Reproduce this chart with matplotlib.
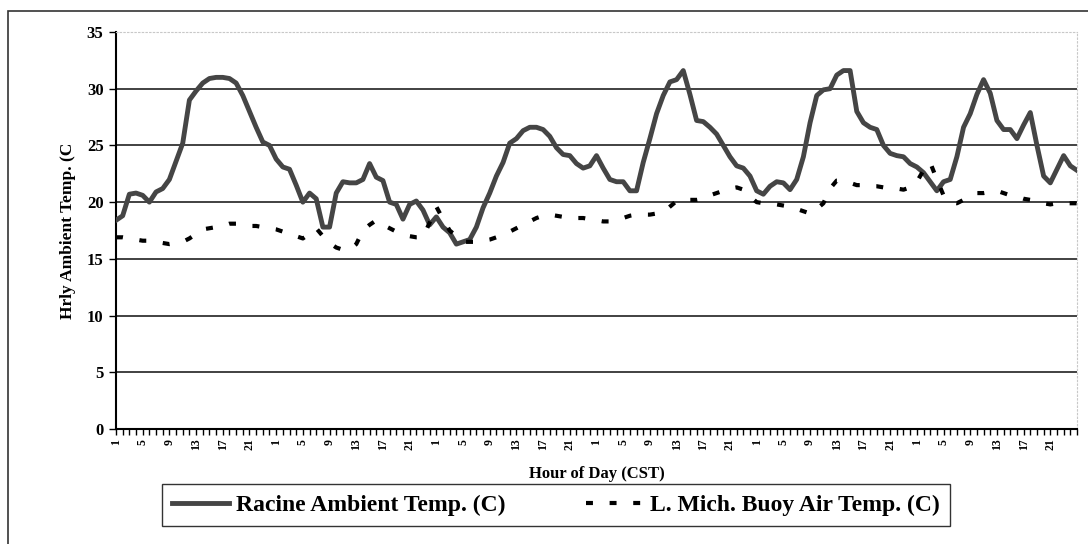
import numpy as np
import matplotlib
matplotlib.use('Agg')
import matplotlib.pyplot as plt
from matplotlib.patches import Rectangle
from matplotlib.ticker import MultipleLocator

plt.rcParams['font.family'] = ['Liberation Serif', 'DejaVu Serif']
plt.rcParams['font.weight'] = 'bold'
plt.rcParams['lines.scale_dashes'] = False

# hourly readings, 6 days (hour 1 of day 1 ... hour 1 of day 7)
racine_temp = [
    18.4, 18.8, 20.7, 20.8, 20.6, 20.0, 20.9, 21.2, 22.0, 23.6, 25.2, 29.0,
    29.8, 30.5, 30.9, 31.0, 31.0, 30.9, 30.5, 29.4, 28.0, 26.6, 25.3, 25.0,
    23.8, 23.1, 22.9, 21.5, 20.0, 20.8, 20.3, 17.8, 17.8, 20.8, 21.8, 21.7,
    21.7, 22.0, 23.4, 22.2, 21.9, 20.0, 19.8, 18.5, 19.8, 20.1, 19.3, 18.0,
    18.7, 17.8, 17.3, 16.3, 16.5, 16.7, 17.8, 19.5, 20.8, 22.3, 23.5, 25.2,
    25.6, 26.3, 26.6, 26.6, 26.4, 25.8, 24.8, 24.2, 24.1, 23.4, 23.0, 23.2,
    24.1, 23.0, 22.0, 21.8, 21.8, 21.0, 21.0, 23.5, 25.6, 27.8, 29.4, 30.6,
    30.8, 31.6, 29.5, 27.2, 27.1, 26.6, 26.0, 25.0, 24.0, 23.2, 23.0, 22.3,
    21.0, 20.7, 21.4, 21.8, 21.7, 21.1, 22.0, 24.0, 27.0, 29.4, 29.9, 30.0,
    31.2, 31.6, 31.6, 28.0, 27.0, 26.6, 26.4, 25.0, 24.3, 24.1, 24.0, 23.4,
    23.1, 22.6, 21.8, 21.0, 21.8, 22.0, 24.0, 26.6, 27.8, 29.5, 30.8, 29.6,
    27.2, 26.4, 26.4, 25.6, 26.8, 27.9, 25.0, 22.3, 21.7, 22.9, 24.1, 23.2,
    22.8,
]

buoy_temp = [
    16.9, 16.9, 16.8, 16.7, 16.6, 16.6, 16.5, 16.4, 16.3, 16.4, 16.5, 16.8,
    17.2, 17.6, 17.7, 17.8, 17.9, 18.1, 18.1, 18.0, 17.9, 17.9, 17.8, 17.7,
    17.6, 17.4, 17.2, 17.0, 16.8, 17.2, 17.7, 17.0, 16.4, 16.0, 15.8, 15.8,
    16.3, 17.5, 18.0, 18.4, 18.0, 17.7, 17.4, 17.2, 17.0, 16.9, 16.9, 18.2,
    19.6, 18.5, 17.5, 17.0, 16.5, 16.5, 16.5, 16.6, 16.7, 16.9, 17.1, 17.4,
    17.7, 18.0, 18.3, 18.6, 18.8, 18.9, 18.8, 18.7, 18.7, 18.6, 18.6, 18.5,
    18.4, 18.3, 18.3, 18.4, 18.6, 18.8, 18.9, 18.9, 18.9, 19.0, 19.1, 19.6,
    20.1, 20.3, 20.2, 20.2, 20.3, 20.6, 20.8, 21.0, 21.2, 21.3, 21.1, 20.5,
    20.0, 19.9, 19.8, 19.8, 19.7, 19.6, 19.4, 19.2, 19.0, 19.4, 19.9, 21.2,
    21.9, 21.9, 21.7, 21.5, 21.5, 21.4, 21.4, 21.3, 21.3, 21.2, 21.1, 21.3,
    21.8, 22.8, 23.5, 22.0, 20.6, 20.0, 19.9, 20.2, 20.6, 20.8, 20.8, 20.9,
    21.0, 20.8, 20.6, 20.5, 20.3, 20.2, 20.0, 19.9, 19.8, 19.9, 19.9, 19.9,
    19.9,
]

hour_labels = ['1', '5', '9', '13', '17', '21'] * 6


def main():
    fig = plt.figure(figsize=(10.88, 5.44), dpi=100)
    ax = fig.add_axes([116 / 1088, 1 - 429 / 544, 961 / 1088, 397 / 544])

    x = np.arange(len(racine_temp))
    ax.plot(x, racine_temp, color='#454545', lw=3.5, solid_joinstyle='round',
            label='Racine Ambient Temp. (C)', zorder=3)
    ax.plot(x, buoy_temp, color='black', lw=3.0, linestyle=(0, (5, 12)),
            label='L. Mich. Buoy Air Temp. (C)', zorder=3)

    ax.set_ylim(0, 35)
    ax.set_xlim(0, 144)
    ax.yaxis.set_major_locator(MultipleLocator(5))
    ax.set_xticks(np.arange(0, 144, 4))
    ax.set_xticklabels(hour_labels, rotation=90, fontsize=8.5, fontweight='bold')
    ax.xaxis.set_minor_locator(MultipleLocator(1))
    ax.tick_params(axis='x', which='both', length=4, width=1, direction='out', pad=3)
    ax.tick_params(axis='y', length=5, width=1, labelsize=12, pad=4)
    for lab in ax.get_yticklabels():
        lab.set_fontweight('bold')

    # gridlines
    for v in range(5, 35, 5):
        ax.axhline(v, color='#333333', lw=1.3, zorder=1)

    ax.spines['top'].set_color('#c8c8c8')
    ax.spines['top'].set_linestyle(':')
    ax.spines['right'].set_color('#c8c8c8')
    ax.spines['right'].set_linestyle(':')
    ax.spines['left'].set_linewidth(1.5)
    ax.spines['bottom'].set_linewidth(1.5)

    ax.set_ylabel('Hrly Ambient Temp. (C', fontsize=12.5, fontweight='bold', labelpad=8)
    ax.set_xlabel('Hour of Day (CST)', fontsize=12, fontweight='bold', labelpad=11)

    fig.legend(loc='center', bbox_to_anchor=(556 / 1088, 1 - 505 / 544), ncol=2,
               frameon=True, fancybox=False, edgecolor='black',
               handlelength=2.4, handletextpad=0.3, columnspacing=3.4,
               borderpad=0.45, borderaxespad=0,
               prop={'weight': 'bold', 'size': 17})

    # outer chart border
    fig.patches.append(Rectangle((8 / 1088, -0.1), 1.2, 1 - 11 / 544 + 0.1,
                                 transform=fig.transFigure, fill=False,
                                 edgecolor='#333333', lw=1.2))

    fig.savefig('out.png', dpi=100)


if __name__ == "__main__":
    main()
